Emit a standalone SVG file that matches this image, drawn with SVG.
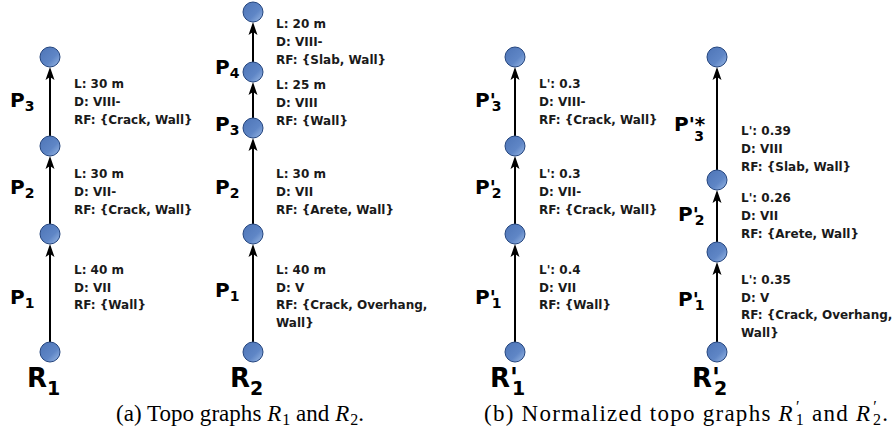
<svg xmlns="http://www.w3.org/2000/svg" width="894" height="437" viewBox="0 0 894 437">
<defs>
<linearGradient id="ng" x1="0" y1="0" x2="1" y2="1">
<stop offset="0" stop-color="#4d74b6"/>
<stop offset="0.6" stop-color="#5f86c6"/>
<stop offset="1" stop-color="#9dbbe6"/>
</linearGradient>
<marker id="arr" viewBox="-6 -5 15 10" refX="0" refY="0" markerWidth="15" markerHeight="10" markerUnits="userSpaceOnUse" orient="auto">
<path d="M8,0 L-5,-4.5 L-2,0 L-5,4.5 Z" fill="#000"/>
</marker>
<style>
.n{fill:url(#ng);stroke:#24457e;stroke-width:1}
.e{stroke:#000;stroke-width:2;fill:none;marker-end:url(#arr)}
.t{font-family:"DejaVu Sans",Verdana,sans-serif;font-weight:bold;font-size:12px;fill:#1a1a1a}
.p{font-family:"DejaVu Sans",Verdana,sans-serif;font-weight:bold;font-size:20px;fill:#000}
.ps{font-size:14px}
.r{font-family:"DejaVu Sans",Verdana,sans-serif;font-weight:bold;font-size:26px;fill:#000}
.rs{font-size:19px}
.c{font-family:"Liberation Serif","Times New Roman",serif;font-size:23px;fill:#000}
.i{font-style:italic}
.cs{font-size:16px}
</style>
</defs>

<g id="connectors">
<line class="e" x1="50" y1="342" x2="50" y2="252"/>
<line class="e" x1="50" y1="224" x2="50" y2="164"/>
<line class="e" x1="50" y1="136" x2="50" y2="75"/>
<line class="e" x1="253" y1="342" x2="253" y2="252"/>
<line class="e" x1="253" y1="224" x2="253" y2="146"/>
<line class="e" x1="253" y1="118" x2="253" y2="90"/>
<line class="e" x1="253" y1="62" x2="253" y2="30"/>
<line class="e" x1="515" y1="342" x2="515" y2="252"/>
<line class="e" x1="515" y1="224" x2="515" y2="164"/>
<line class="e" x1="515" y1="136" x2="515" y2="75"/>
<line class="e" x1="717" y1="342" x2="717" y2="270"/>
<line class="e" x1="717" y1="242" x2="717" y2="198"/>
<line class="e" x1="717" y1="170" x2="717" y2="75"/>
</g>

<g id="R1-n0"><circle class="n" cx="50" cy="352" r="10"/></g>
<g id="R1-n1"><circle class="n" cx="50" cy="234" r="10"/></g>
<g id="R1-n2"><circle class="n" cx="50" cy="146" r="10"/></g>
<g id="R1-n3"><circle class="n" cx="50" cy="57" r="10"/></g>

<g id="R2-n0"><circle class="n" cx="253" cy="352" r="10"/></g>
<g id="R2-n1"><circle class="n" cx="253" cy="234" r="10"/></g>
<g id="R2-n2"><circle class="n" cx="253" cy="128" r="10"/></g>
<g id="R2-n3"><circle class="n" cx="253" cy="72" r="10"/></g>
<g id="R2-n4"><circle class="n" cx="253" cy="12" r="10"/></g>

<g id="R1p-n0"><circle class="n" cx="515" cy="352" r="10"/></g>
<g id="R1p-n1"><circle class="n" cx="515" cy="234" r="10"/></g>
<g id="R1p-n2"><circle class="n" cx="515" cy="146" r="10"/></g>
<g id="R1p-n3"><circle class="n" cx="515" cy="57" r="10"/></g>

<g id="R2p-n0"><circle class="n" cx="717" cy="352" r="10"/></g>
<g id="R2p-n1"><circle class="n" cx="717" cy="252" r="10"/></g>
<g id="R2p-n2"><circle class="n" cx="717" cy="180" r="10"/></g>
<g id="R2p-n3"><circle class="n" cx="717" cy="57" r="10"/></g>

<g id="labels-R1">
<text class="r" x="27" y="387">R<tspan class="rs" dy="8">1</tspan></text>
<text class="p" x="10" y="107">P<tspan class="ps" dy="4">3</tspan></text>
<text class="p" x="10" y="194">P<tspan class="ps" dy="4">2</tspan></text>
<text class="p" x="10" y="304">P<tspan class="ps" dy="4">1</tspan></text>
<text class="t" x="74" y="88">L: 30 m</text>
<text class="t" x="74" y="106">D: VIII-</text>
<text class="t" x="74" y="124">RF: {Crack, Wall}</text>
<text class="t" x="74" y="178">L: 30 m</text>
<text class="t" x="74" y="196">D: VII-</text>
<text class="t" x="74" y="214">RF: {Crack, Wall}</text>
<text class="t" x="74" y="274">L: 40 m</text>
<text class="t" x="74" y="292">D: VII</text>
<text class="t" x="74" y="309">RF: {Wall}</text>
</g>

<g id="labels-R2">
<text class="r" x="230" y="387">R<tspan class="rs" dy="8">2</tspan></text>
<text class="p" x="215" y="74">P<tspan class="ps" dy="4">4</tspan></text>
<text class="p" x="215" y="131">P<tspan class="ps" dy="4">3</tspan></text>
<text class="p" x="215" y="194">P<tspan class="ps" dy="4">2</tspan></text>
<text class="p" x="215" y="297">P<tspan class="ps" dy="4">1</tspan></text>
<text class="t" x="276" y="28">L: 20 m</text>
<text class="t" x="276" y="46">D: VIII-</text>
<text class="t" x="276" y="64">RF: {Slab, Wall}</text>
<text class="t" x="276" y="89">L: 25 m</text>
<text class="t" x="276" y="107">D: VIII</text>
<text class="t" x="276" y="125">RF: {Wall}</text>
<text class="t" x="276" y="178">L: 30 m</text>
<text class="t" x="276" y="196">D: VII</text>
<text class="t" x="276" y="214">RF: {Arete, Wall}</text>
<text class="t" x="276" y="274">L: 40 m</text>
<text class="t" x="276" y="292">D: V</text>
<text class="t" x="276" y="309">RF: {Crack, Overhang,</text>
<text class="t" x="276" y="327">Wall}</text>
</g>

<g id="labels-R1p">
<text class="r" x="490" y="387">R'<tspan class="rs" dx="-6" dy="8">1</tspan></text>
<text class="p" x="475" y="107">P'<tspan class="ps" dx="-4" dy="4">3</tspan></text>
<text class="p" x="475" y="194">P'<tspan class="ps" dx="-4" dy="4">2</tspan></text>
<text class="p" x="475" y="304">P'<tspan class="ps" dx="-4" dy="4">1</tspan></text>
<text class="t" x="539" y="88">L': 0.3</text>
<text class="t" x="539" y="106">D: VIII-</text>
<text class="t" x="539" y="124">RF: {Crack, Wall}</text>
<text class="t" x="539" y="178">L': 0.3</text>
<text class="t" x="539" y="196">D: VII-</text>
<text class="t" x="539" y="214">RF: {Crack, Wall}</text>
<text class="t" x="539" y="274">L': 0.4</text>
<text class="t" x="539" y="292">D: VII</text>
<text class="t" x="539" y="309">RF: {Wall}</text>
</g>

<g id="labels-R2p">
<text class="r" x="692" y="387">R'<tspan class="rs" dx="-6" dy="8">2</tspan></text>
<text class="p" x="674" y="131">P'*<tspan class="ps" dx="-11" dy="10">3</tspan></text>
<text class="p" x="678" y="221">P'<tspan class="ps" dx="-4" dy="4">2</tspan></text>
<text class="p" x="678" y="306">P'<tspan class="ps" dx="-4" dy="4">1</tspan></text>
<text class="t" x="741" y="135">L': 0.39</text>
<text class="t" x="741" y="153">D: VIII</text>
<text class="t" x="741" y="171">RF: {Slab, Wall}</text>
<text class="t" x="741" y="202">L': 0.26</text>
<text class="t" x="741" y="220">D: VII</text>
<text class="t" x="741" y="238">RF: {Arete, Wall}</text>
<text class="t" x="741" y="284">L': 0.35</text>
<text class="t" x="741" y="302">D: V</text>
<text class="t" x="741" y="319">RF: {Crack, Overhang,</text>
<text class="t" x="741" y="337">Wall}</text>
</g>

<g id="captions">
<text class="c" x="116" y="421" textLength="248" lengthAdjust="spacing">(a) Topo graphs <tspan class="i">R</tspan><tspan class="cs" dx="1" dy="4">1</tspan><tspan dy="-4">&#160;and </tspan><tspan class="i">R</tspan><tspan class="cs" dx="1" dy="4">2</tspan><tspan dy="-4">.</tspan></text>
<text class="c" x="484" y="421" textLength="404" lengthAdjust="spacing">(b) Normalized topo graphs <tspan class="i">R</tspan><tspan class="cs" dx="2" dy="-9">′</tspan><tspan class="cs" dx="-5" dy="13">1</tspan><tspan dy="-4">&#160;and </tspan><tspan class="i">R</tspan><tspan class="cs" dx="2" dy="-9">′</tspan><tspan class="cs" dx="-5" dy="13">2</tspan><tspan dy="-4">.</tspan></text>
</g>
</svg>
